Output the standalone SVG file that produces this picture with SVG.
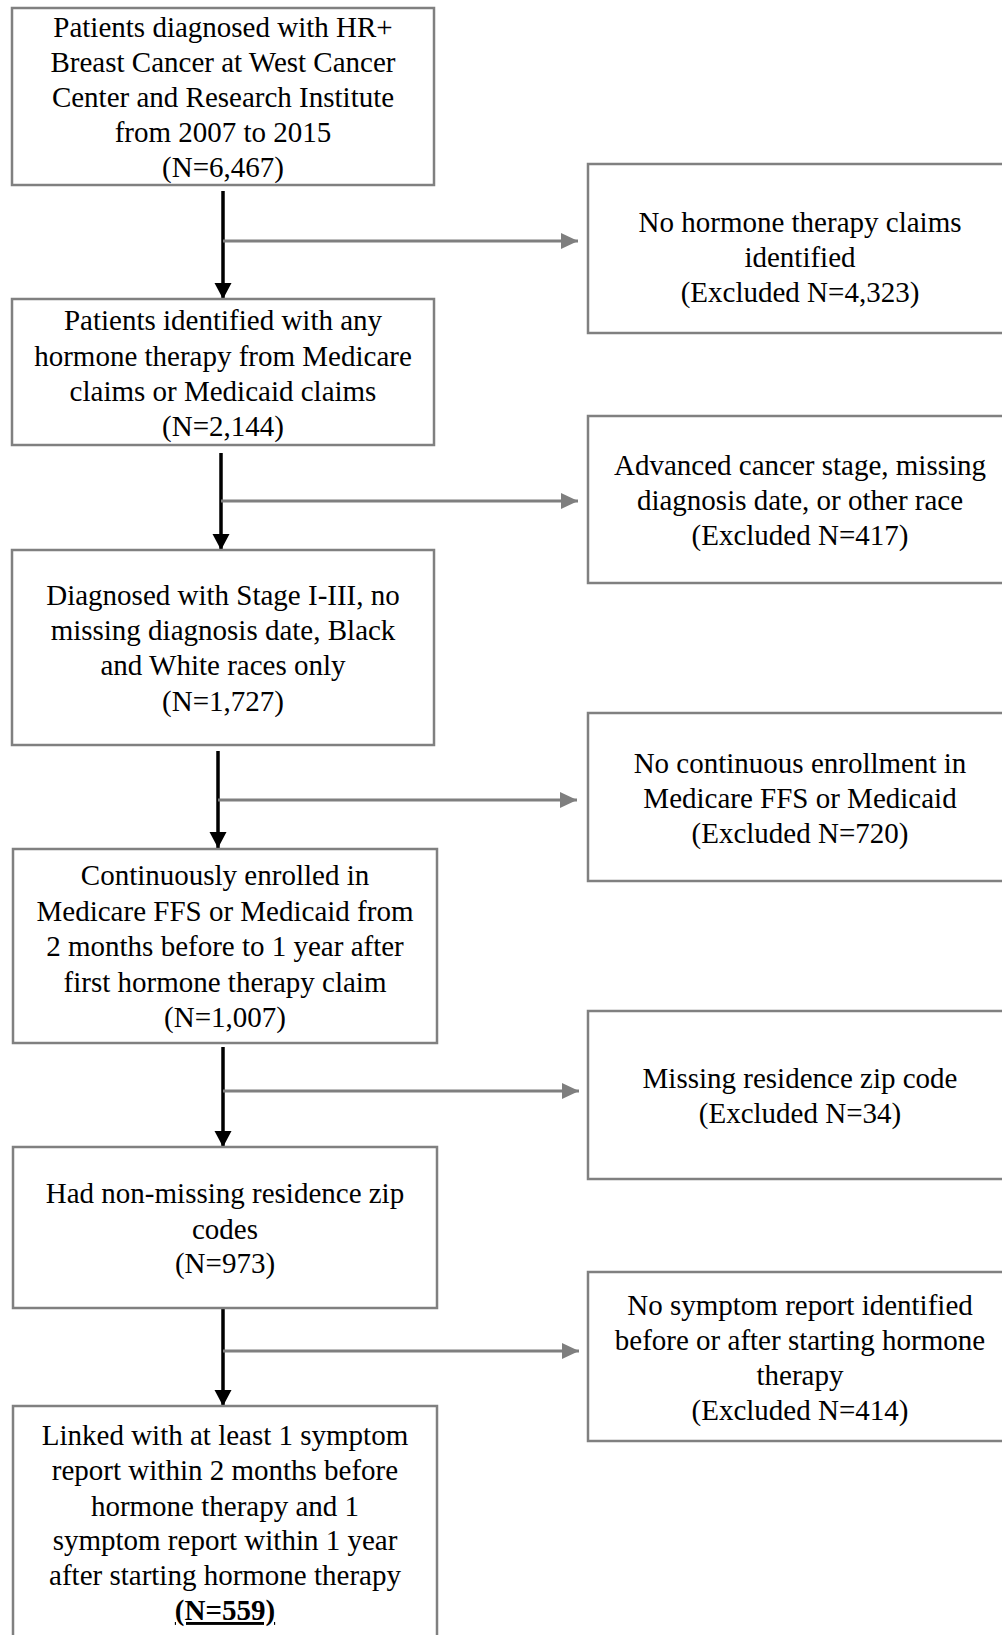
<svg xmlns="http://www.w3.org/2000/svg" width="1002" height="1635" viewBox="0 0 1002 1635">
<style>
.box{fill:#ffffff;stroke:#808080;stroke-width:2.5}
.t{font-family:"Liberation Serif","Times New Roman",serif;font-size:29px;fill:#000;text-anchor:middle}
.v{stroke:#000;stroke-width:3.5;fill:none}
.h{stroke:#7f7f7f;stroke-width:3.2;fill:none}
</style>
<defs>
<marker id="ab" markerUnits="userSpaceOnUse" markerWidth="18" markerHeight="18" refX="16" refY="8.5" orient="auto" viewBox="0 0 18 18">
<path d="M0,0 L16,8.5 L0,17 z" fill="#000"/>
</marker>
<marker id="ag" markerUnits="userSpaceOnUse" markerWidth="18" markerHeight="17" refX="17" refY="8" orient="auto" viewBox="0 0 18 17">
<path d="M0,0 L17,8 L0,16 z" fill="#7f7f7f"/>
</marker>
</defs>
<rect width="1002" height="1635" fill="#ffffff"/>

<g id="connectors">
<line class="v" x1="223" y1="191" x2="223" y2="299" marker-end="url(#ab)"/>
<line class="h" x1="223" y1="241" x2="578" y2="241" marker-end="url(#ag)"/>
<line class="v" x1="221" y1="453" x2="221" y2="550" marker-end="url(#ab)"/>
<line class="h" x1="221" y1="501" x2="578" y2="501" marker-end="url(#ag)"/>
<line class="v" x1="218" y1="751" x2="218" y2="848" marker-end="url(#ab)"/>
<line class="h" x1="218" y1="800" x2="577" y2="800" marker-end="url(#ag)"/>
<line class="v" x1="223" y1="1047" x2="223" y2="1147" marker-end="url(#ab)"/>
<line class="h" x1="223" y1="1091" x2="579" y2="1091" marker-end="url(#ag)"/>
<line class="v" x1="223" y1="1309" x2="223" y2="1406" marker-end="url(#ab)"/>
<line class="h" x1="223" y1="1351" x2="579" y2="1351" marker-end="url(#ag)"/>
</g>

<g id="n1">
<rect class="box" x="12" y="8" width="422" height="177"/>
<text class="t"><tspan x="223" y="36.5">Patients diagnosed with HR+</tspan><tspan x="223" y="71.7">Breast Cancer at West Cancer</tspan><tspan x="223" y="106.9">Center and Research Institute</tspan><tspan x="223" y="142.1">from 2007 to 2015</tspan><tspan x="223" y="177.3">(N=6,467)</tspan></text>
</g>
<g id="n2">
<rect class="box" x="12" y="299" width="422" height="146"/>
<text class="t"><tspan x="223" y="330">Patients identified with any</tspan><tspan x="223" y="365.5">hormone therapy from Medicare</tspan><tspan x="223" y="400.5">claims or Medicaid claims</tspan><tspan x="223" y="435.5">(N=2,144)</tspan></text>
</g>
<g id="n3">
<rect class="box" x="12" y="550" width="422" height="195"/>
<text class="t"><tspan x="223" y="605">Diagnosed with Stage I-III, no</tspan><tspan x="223" y="640">missing diagnosis date, Black</tspan><tspan x="223" y="675">and White races only</tspan><tspan x="223" y="711">(N=1,727)</tspan></text>
</g>
<g id="n4">
<rect class="box" x="13" y="849" width="424" height="194"/>
<text class="t"><tspan x="225" y="885">Continuously enrolled in</tspan><tspan x="225" y="921">Medicare FFS or Medicaid from</tspan><tspan x="225" y="956">2 months before to 1 year after</tspan><tspan x="225" y="992">first hormone therapy claim</tspan><tspan x="225" y="1027">(N=1,007)</tspan></text>
</g>
<g id="n5">
<rect class="box" x="13" y="1147" width="424" height="161"/>
<text class="t"><tspan x="225" y="1203">Had non-missing residence zip</tspan><tspan x="225" y="1239">codes</tspan><tspan x="225" y="1273">(N=973)</tspan></text>
</g>
<g id="n6">
<rect class="box" x="13" y="1406" width="424" height="240"/>
<text class="t"><tspan x="225" y="1445">Linked with at least 1 symptom</tspan><tspan x="225" y="1480">report within 2 months before</tspan><tspan x="225" y="1516">hormone therapy and 1</tspan><tspan x="225" y="1550">symptom report within 1 year</tspan><tspan x="225" y="1585">after starting hormone therapy</tspan><tspan x="225" y="1620" font-weight="bold" text-decoration="underline">(N=559)</tspan></text>
</g>

<g id="e1">
<rect class="box" x="588" y="164" width="426" height="169"/>
<text class="t"><tspan x="800" y="232">No hormone therapy claims</tspan><tspan x="800" y="267">identified</tspan><tspan x="800" y="302">(Excluded N=4,323)</tspan></text>
</g>
<g id="e2">
<rect class="box" x="588" y="416" width="426" height="167"/>
<text class="t"><tspan x="800" y="475">Advanced cancer stage, missing</tspan><tspan x="800" y="510">diagnosis date, or other race</tspan><tspan x="800" y="545">(Excluded N=417)</tspan></text>
</g>
<g id="e3">
<rect class="box" x="588" y="713" width="426" height="168"/>
<text class="t"><tspan x="800" y="773">No continuous enrollment in</tspan><tspan x="800" y="808">Medicare FFS or Medicaid</tspan><tspan x="800" y="843">(Excluded N=720)</tspan></text>
</g>
<g id="e4">
<rect class="box" x="588" y="1011" width="426" height="168"/>
<text class="t"><tspan x="800" y="1088">Missing residence zip code</tspan><tspan x="800" y="1123">(Excluded N=34)</tspan></text>
</g>
<g id="e5">
<rect class="box" x="588" y="1272" width="426" height="169"/>
<text class="t"><tspan x="800" y="1315">No symptom report identified</tspan><tspan x="800" y="1350">before or after starting hormone</tspan><tspan x="800" y="1385">therapy</tspan><tspan x="800" y="1420">(Excluded N=414)</tspan></text>
</g>
</svg>
